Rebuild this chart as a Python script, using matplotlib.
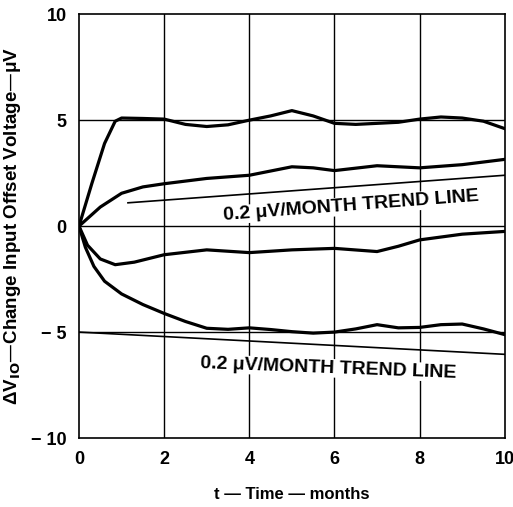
import matplotlib.pyplot as plt

plt.rcParams['font.family'] = ['Liberation Sans', 'DejaVu Sans']
plt.rcParams['font.weight'] = 'bold'

# curves
c1_x = [0, 0.3, 0.6, 0.85, 1.0, 1.5, 2, 2.5, 3, 3.5, 4, 4.5, 5, 5.5, 6, 6.5, 7, 7.5, 8, 8.5, 9, 9.5, 10]
c1_y = [0, 2.0, 3.9, 4.95, 5.1, 5.08, 5.05, 4.8, 4.7, 4.78, 5.0, 5.2, 5.45, 5.2, 4.85, 4.8, 4.85, 4.9, 5.05, 5.15, 5.1, 4.95, 4.6]

c2_x = [0, 0.5, 1, 1.5, 2, 3, 4, 4.5, 5, 5.5, 6, 7, 8, 9, 10]
c2_y = [0, 0.9, 1.55, 1.85, 2.0, 2.25, 2.4, 2.6, 2.8, 2.75, 2.62, 2.85, 2.75, 2.9, 3.15]

c3_x = [0, 0.2, 0.5, 0.85, 1.3, 2, 3, 4, 5, 6, 7, 7.5, 8, 9, 10]
c3_y = [0, -0.9, -1.55, -1.82, -1.7, -1.35, -1.12, -1.25, -1.12, -1.05, -1.2, -0.95, -0.65, -0.38, -0.25]

c4_x = [0, 0.15, 0.35, 0.6, 1, 1.5, 2, 2.5, 3, 3.5, 4, 4.5, 5, 5.5, 6, 6.5, 7, 7.5, 8, 8.5, 9, 9.5, 10]
c4_y = [0, -1.0, -1.9, -2.6, -3.2, -3.7, -4.12, -4.5, -4.82, -4.87, -4.8, -4.88, -4.98, -5.05, -5.0, -4.85, -4.65, -4.8, -4.78, -4.65, -4.62, -4.85, -5.12]

trend_up_x = [1.15, 10]
trend_up_y = [1.1, 2.4]
trend_dn_x = [0, 10]
trend_dn_y = [-5.0, -6.05]

x_ticks = [0, 2, 4, 6, 8, 10]
y_ticks = [-10, -5, 0, 5, 10]
y_labels = ['\u2212 10', '\u2212 5', '0', '5', '10']

fig = plt.figure(figsize=(5.13, 5.07), dpi=100)
ax = fig.add_axes([0.154, 0.136, 0.830, 0.836])

for v in [2, 4, 6, 8]:
    ax.axvline(v, color='black', lw=1.0, zorder=1)
for v in [-5, 0, 5]:
    ax.axhline(v, color='black', lw=1.0, zorder=1)

for xs, ys in [(c1_x, c1_y), (c2_x, c2_y), (c3_x, c3_y), (c4_x, c4_y)]:
    ax.plot(xs, ys, color='black', lw=2.3, solid_joinstyle='round', zorder=3)

ax.plot(trend_up_x, trend_up_y, color='black', lw=1.2, zorder=2)
ax.plot(trend_dn_x, trend_dn_y, color='black', lw=1.2, zorder=2)

ax.text(6.4, 0.95, '0.2 \u03bcV/MONTH TREND LINE', rotation=4.3, ha='center', va='center',
        fontsize=14, fontweight='bold', zorder=4,
        bbox=dict(facecolor='white', edgecolor='none', pad=0.5))
ax.text(5.85, -6.7, '0.2 \u03bcV/MONTH TREND LINE', rotation=-2.2, ha='center', va='center',
        fontsize=14, fontweight='bold', zorder=4,
        bbox=dict(facecolor='white', edgecolor='none', pad=0.5))

ax.set_xlim(0, 10)
ax.set_ylim(-10, 10)
ax.set_xticks(x_ticks)
ax.set_yticks(y_ticks)
ax.set_yticklabels(y_labels)
ax.tick_params(length=0, labelsize=13, pad=9)
for lab in ax.get_xticklabels() + ax.get_yticklabels():
    lab.set_fontweight('bold')
for s in ax.spines.values():
    s.set_linewidth(1.2)

ax.set_xlabel('t \u2014 Time \u2014 months', fontsize=12, fontweight='bold', labelpad=14)
ax.set_ylabel('\u0394V$_{\\mathbf{IO}}$\u2014Change Input Offset Voltage\u2014\u03bcV', fontsize=13.5,
              fontweight='bold', labelpad=6)

fig.savefig('out.png', dpi=100)
